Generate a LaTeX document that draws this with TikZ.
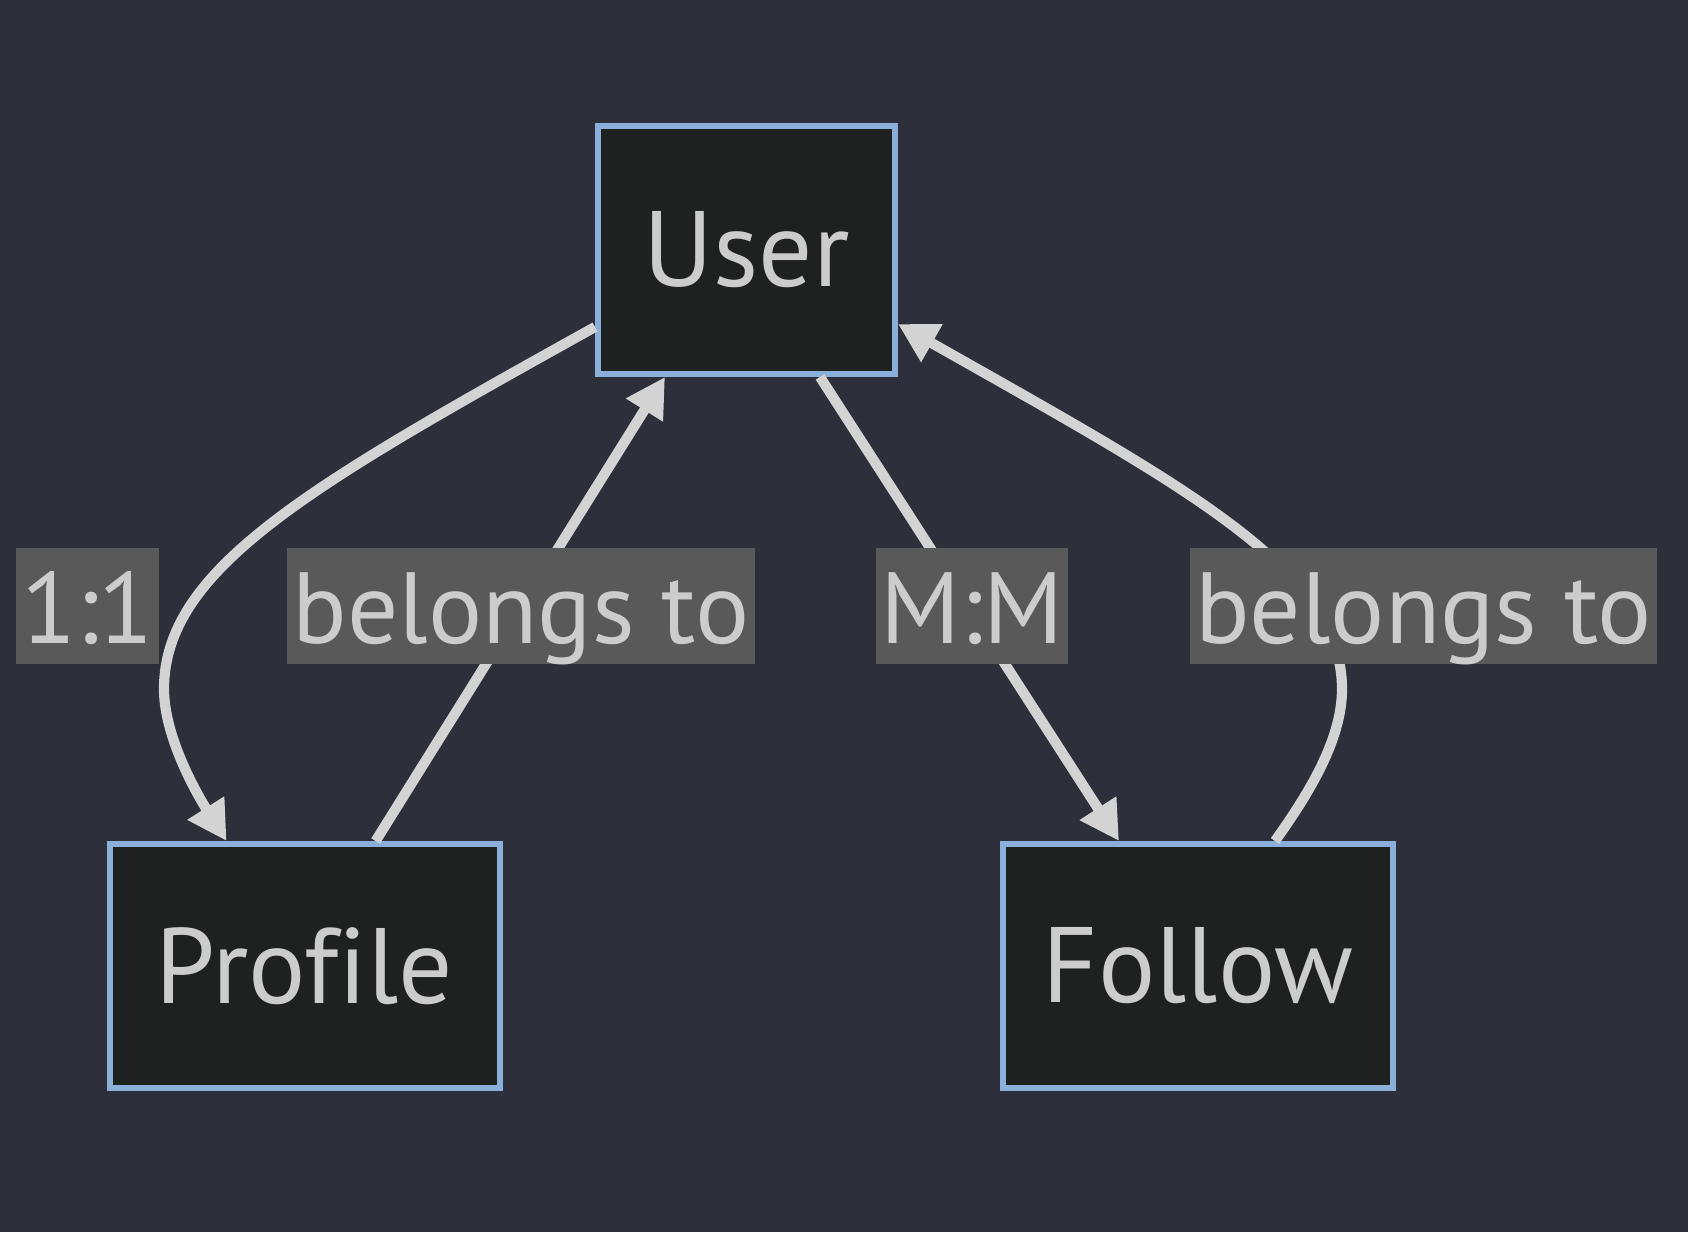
\documentclass[tikz,border=0pt]{standalone}
\usepackage{fontspec}
\setmainfont[Ligatures=NoCommon]{PT Sans}
\usetikzlibrary{arrows.meta}
\definecolor{bgcol}{HTML}{2D303A}
\definecolor{boxfill}{HTML}{1F2020}
\definecolor{boxline}{HTML}{89AFDA}
\definecolor{linecol}{HTML}{D3D3D3}
\definecolor{tagfill}{HTML}{595959}
\definecolor{txtcol}{HTML}{CCCCCC}

\begin{document}
\begin{tikzpicture}[
  entity/.style={draw=boxline, fill=boxfill, line width=1.7pt, text=txtcol,
    font=\fontsize{30.5}{36}\selectfont, inner sep=0pt},
  rel/.style={draw=linecol, line width=2.9pt,
    -{Triangle[length=0.39cm, width=0.41cm]}},
  tag/.style={fill=tagfill, text=txtcol, font=\fontsize{28.8}{34}\selectfont,
    inner xsep=1.5pt, inner ysep=0pt, text height=0.96cm, text depth=0.20cm}
]
\fill[bgcol] (0,0) rectangle (16.88,12.32);

% entities
\node[entity, minimum width=2.97cm, minimum height=2.48cm] (user) at (7.465,9.82) {User};
\node[entity, minimum width=3.90cm, minimum height=2.44cm] (profile) at (3.046,2.66) {Profile};
\node[entity, minimum width=3.90cm, minimum height=2.44cm] (follow) at (11.98,2.66) {Follow};

% end points on the boxes
\coordinate (userW) at ([yshift=0.50cm]user.south west);
\coordinate (userE) at ([yshift=0.53cm]user.south east);
\coordinate (userSa) at ([xshift=0.70cm]user.south west);
\coordinate (userSb) at ([xshift=2.25cm]user.south west);
\coordinate (profileNa) at ([xshift=1.20cm]profile.north west);
\coordinate (profileNb) at ([xshift=2.69cm]profile.north west);
\coordinate (followNa) at ([xshift=1.19cm]follow.north west);
\coordinate (followNb) at ([xshift=2.75cm]follow.north west);

% relations
\draw[rel] (userW) .. controls (3.09,7.46) and (1.64,6.63) .. (1.64,5.43)
  .. controls (1.64,4.93) and (2.00,4.33) .. (profileNa);
\draw[rel] (profileNb) -- (userSa);
\draw[rel] (userSb) -- (followNa);
\draw[rel] (followNb) .. controls (13.10,4.40) and (13.42,4.93) .. (13.42,5.43)
  .. controls (13.42,6.63) and (11.84,7.46) .. (userE);

% labels
\node[tag] (lblone) at (0.875,6.26) {1:1};
\node[tag] (lblprofile) at (5.21,6.26) {belongs to};
\node[tag] (lblmany) at (9.72,6.26) {M:M};
\node[tag] (lblfollow) at (14.235,6.26) {belongs to};
\end{tikzpicture}
\end{document}
